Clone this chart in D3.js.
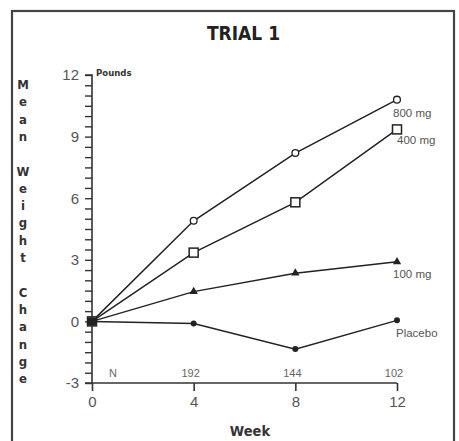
<!DOCTYPE html>
<html>
<head>
<meta charset="utf-8">
<script src="https://cdn.jsdelivr.net/npm/d3@7.9.0/dist/d3.min.js"></script>
<style>
  html, body { margin: 0; padding: 0; background: #fff; }
  svg { display: block; }
  .narrow { font-family: "Liberation Sans Narrow", "DejaVu Sans Condensed", "Arial Narrow", sans-serif; font-weight: bold; }
  .reg { font-family: "Liberation Sans", Arial, sans-serif; }
</style>
</head>
<body>
<svg id="chart"></svg>
<script>
// weeks and mean weight change (pounds) per dose group
const weeks = [0, 4, 8, 12];
const mg800 = [0, 4.9, 8.2, 10.8];
const mg400 = [0, 3.35, 5.8, 9.35];
const mg100 = [0, 1.45, 2.35, 2.9];
const placebo = [0, -0.1, -1.35, 0.05];
const nCounts = ['N', '192', '144', '102'];
const yTicks = [-3, 0, 3, 6, 9, 12];
const seriesNames = ['800 mg', '400 mg', '100 mg', 'Placebo'];

const width = 459, height = 441;
const svg = d3.select('#chart').attr('width', width).attr('height', height);

// frame
svg.append('rect')
  .attr('x', 12).attr('y', 11)
  .attr('width', 442).attr('height', 450)
  .attr('fill', 'none')
  .attr('stroke', '#444')
  .attr('stroke-width', 2.2);

const x = d3.scaleLinear().domain([0, 12]).range([92, 397]);
const y = d3.scaleLinear().domain([-3, 12]).range([383, 75]);

// title
svg.append('text')
  .attr('class', 'narrow')
  .attr('x', 243.5).attr('y', 40)
  .attr('text-anchor', 'middle')
  .attr('font-size', '19px')
  .attr('fill', '#222')
  .text('TRIAL 1');

// y axis with half-pound ticks
const yAxis = d3.axisLeft(y)
  .tickValues(d3.range(-3, 12.01, 0.5))
  .tickSize(7)
  .tickFormat(d => yTicks.includes(d) ? d : '');
const gy = svg.append('g').attr('transform', `translate(${x(0)},0)`).call(yAxis);
gy.select('.domain').attr('stroke', '#333').attr('stroke-width', 1.6).attr('d', `M-7,${y(12)}H0V${y(-3)}H-7`);
gy.selectAll('.tick line').attr('stroke', '#333').attr('stroke-width', 1.4);
gy.selectAll('.tick text')
  .attr('class', 'reg')
  .attr('font-size', '15px')
  .attr('fill', '#555')
  .attr('x', -13);

// x axis
const xAxis = d3.axisBottom(x).tickValues(weeks).tickSize(8).tickPadding(5);
const gx = svg.append('g').attr('transform', `translate(0,${y(-3)})`).call(xAxis);
gx.select('.domain').attr('stroke', '#333').attr('stroke-width', 1.6).attr('d', `M${x(0)},0H${x(12)}`);
gx.selectAll('.tick line').attr('stroke', '#333').attr('stroke-width', 1.6);
gx.selectAll('.tick text')
  .attr('class', 'reg')
  .attr('font-size', '15px')
  .attr('fill', '#555');

// units label
svg.append('text')
  .attr('class', 'narrow')
  .attr('x', x(0) + 4).attr('y', y(12) + 1)
  .attr('font-size', '9.5px')
  .attr('fill', '#333')
  .text('Pounds');

// stacked y label
const yLabel = 'Mean Weight Change'.split('');
svg.append('g').selectAll('text')
  .data(yLabel)
  .join('text')
  .attr('class', 'narrow')
  .attr('x', 23)
  .attr('y', (d, i) => 89 + i * 17.3)
  .attr('text-anchor', 'middle')
  .attr('font-size', '13px')
  .attr('fill', '#333')
  .text(d => d);

// x label
svg.append('text')
  .attr('class', 'narrow')
  .attr('x', 250).attr('y', 436)
  .attr('text-anchor', 'middle')
  .attr('font-size', '14.5px')
  .attr('fill', '#333')
  .text('Week');

// N row
svg.append('g').selectAll('text')
  .data(nCounts)
  .join('text')
  .attr('class', 'reg')
  .attr('x', (d, i) => i === 0 ? x(weeks[i]) + 21 : x(weeks[i]) - 3)
  .attr('y', 377)
  .attr('text-anchor', 'middle')
  .attr('font-size', '11px')
  .attr('fill', '#666')
  .text(d => d);

// lines
const series = [mg800, mg400, mg100, placebo];
const line = d3.line().x((d, i) => x(weeks[i])).y(d => y(d));
svg.append('g').selectAll('path')
  .data(series)
  .join('path')
  .attr('d', line)
  .attr('fill', 'none')
  .attr('stroke', '#222')
  .attr('stroke-width', 1.5);

const pts = s => s.map((v, i) => ({ w: weeks[i], v }));

// 800 mg: open circles
svg.append('g').selectAll('circle')
  .data(pts(mg800))
  .join('circle')
  .attr('cx', d => x(d.w)).attr('cy', d => y(d.v))
  .attr('r', 3.4)
  .attr('fill', '#fff').attr('stroke', '#222').attr('stroke-width', 1.3);

// 400 mg: open squares
svg.append('g').selectAll('rect')
  .data(pts(mg400))
  .join('rect')
  .attr('x', d => x(d.w) - 4.5).attr('y', d => y(d.v) - 4.5)
  .attr('width', 9).attr('height', 9)
  .attr('fill', '#fff').attr('stroke', '#222').attr('stroke-width', 1.5);

// 100 mg: filled triangles
svg.append('g').selectAll('path')
  .data(pts(mg100))
  .join('path')
  .attr('transform', d => `translate(${x(d.w)},${y(d.v)})`)
  .attr('d', d3.symbol(d3.symbolTriangle, 30))
  .attr('fill', '#222');

// placebo: filled circles
svg.append('g').selectAll('circle')
  .data(pts(placebo))
  .join('circle')
  .attr('cx', d => x(d.w)).attr('cy', d => y(d.v))
  .attr('r', 3)
  .attr('fill', '#222');

// dark origin where all markers coincide
svg.append('rect')
  .attr('x', x(0) - 4).attr('y', y(0) - 4)
  .attr('width', 8).attr('height', 8)
  .attr('fill', '#222');

// series labels at the last point
const labelOffsets = [[-4, 17], [0, 15], [-4, 16], [-1, 17]];
svg.append('g').selectAll('text')
  .data(seriesNames)
  .join('text')
  .attr('class', 'reg')
  .attr('x', (d, i) => x(12) + labelOffsets[i][0])
  .attr('y', (d, i) => y(series[i][3]) + labelOffsets[i][1])
  .attr('font-size', '11.5px')
  .attr('fill', '#555')
  .text(d => d);
</script>
</body>
</html>
